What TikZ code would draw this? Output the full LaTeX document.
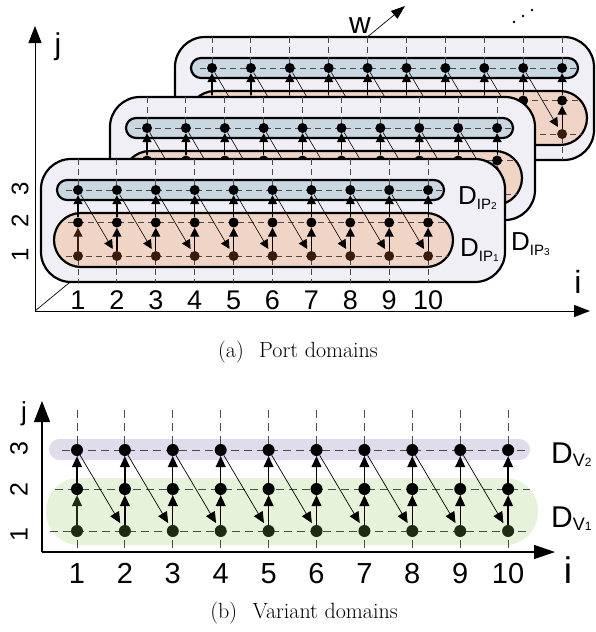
\documentclass[tikz,border=0pt]{standalone}
\usepackage{fontspec}
\newfontfamily\sansf{Liberation Sans}
\usetikzlibrary{arrows.meta}
\definecolor{cPlane}{RGB}{240,239,245}
\definecolor{cBlue}{RGB}{201,216,224}
\definecolor{cSalmon}{RGB}{240,213,199}
\definecolor{cLav}{RGB}{225,220,236}
\definecolor{cGreen}{RGB}{231,242,219}
\definecolor{cDotBrown}{RGB}{58,28,12}
\definecolor{cDotGreen}{RGB}{30,44,18}
\definecolor{cGrid}{RGB}{75,75,75}
\newcommand{\fsz}[1]{\fontsize{#1}{#1}\selectfont}
\tikzset{
  planebox/.style={draw=black, line width=2.2pt, fill=cPlane, rounded corners=30pt},
  pillblue/.style={draw=black, line width=2.2pt, fill=cBlue, rounded corners=10pt},
  pillsalmon/.style={draw=black, line width=2.2pt, fill=cSalmon, rounded corners=27pt},
  gridA/.style={draw=cGrid, line width=0.9pt, dash pattern=on 6pt off 4pt},
  gridB/.style={draw=cGrid, line width=1pt, dash pattern=on 8pt off 5pt},
  dotA/.style={circle, fill=black, inner sep=0pt, minimum size=10pt},
  dotAlow/.style={dotA, fill=cDotBrown},
  dotB/.style={circle, fill=black, inner sep=0pt, minimum size=12pt},
  dotBlow/.style={dotB, fill=cDotGreen},
  varrowA/.style={line width=1.2pt, -{Triangle[length=9pt,width=9pt]}},
  darrowA/.style={line width=0.6pt, -{Triangle[length=9pt,width=9pt]}, shorten >=3pt},
  varrowB/.style={line width=1.3pt, -{Triangle[length=11pt,width=10pt]}},
  darrowB/.style={line width=0.7pt, -{Triangle[length=11pt,width=10pt]}, shorten >=3pt},
  axisline/.style={line width=1pt},
  lab/.style={inner sep=0pt, font=\sansf},
  captext/.style={inner sep=0pt, font=\fsz{22}},
}
% plane: #1 prefix, #2 x of col 1, #3 y of row 3, #4 right edge (relative)
\newcommand{\drawplane}[4]{%
\begin{scope}[shift={(#2,#3)}]
  \draw[planebox] (-37,-31) rectangle (#4,92);
  \draw[pillblue] (-21,-10) rectangle (366,10);
  \draw[pillsalmon] (-24,23) rectangle (375,77);
  \foreach \k in {0,...,9} \draw[gridA] ({\k*38.9},-31) -- ({\k*38.9},92);
  \draw[gridA] (-12,0) -- (367,0);
  \draw[gridA] (-10,32.5) -- (370,32.5);
  \draw[gridA] (-12,66) -- (370,66);
  \foreach \k in {1,...,10} {
    \node[dotA] (#1-3-\k) at ({(\k-1)*38.9},0) {};
    \node[dotA] (#1-2-\k) at ({(\k-1)*38.9},32.5) {};
    \node[dotAlow] (#1-1-\k) at ({(\k-1)*38.9},66) {};
  }
  \draw[varrowA, cDotBrown] (#1-1-1) -- (#1-2-1);
  \foreach \k in {2,...,10} \draw[varrowA] (#1-1-\k) -- (#1-2-\k);
  \foreach \k in {1,...,10} \draw[varrowA] (#1-2-\k) -- (#1-3-\k);
  \foreach \k [count=\n from 2] in {1,...,9} \draw[darrowA] (#1-3-\k) -- (#1-1-\n);
\end{scope}}
\begin{document}
\begin{tikzpicture}[x=1pt,y=-1pt]
\useasboundingbox (0,0) rectangle (596,632);
%================ (a) =================
\coordinate (aO) at (35,311);
\coordinate (aJ) at (35,26);
\coordinate (aI) at (590,311);
\coordinate (aW) at (405,6);
\draw[axisline, -{Triangle[length=17pt,width=13pt]}] (aO) -- (aJ);
\draw[axisline, -{Triangle[length=16pt,width=12pt]}] (aO) -- (aI);
\draw[line width=0.7pt, -{Triangle[length=14pt,width=10pt]}] (aO) -- (aW);
\drawplane{pc}{212}{68}{382}
\drawplane{pb}{147}{128}{388}
\drawplane{pa}{78}{190}{427}
% ellipsis
\node[circle, fill=black, inner sep=0pt, minimum size=2.6pt] (e1) at (514,22) {};
\node[circle, fill=black, inner sep=0pt, minimum size=2.6pt] (e2) at (523,16) {};
\node[circle, fill=black, inner sep=0pt, minimum size=2.6pt] (e3) at (532,10) {};
% labels (a)
\node[lab, anchor=base, font=\sansf\fsz{30}] (ja) at (58,54) {j};
\node[lab, anchor=base, font=\sansf\fsz{30}] (wa) at (360,33) {w};
\node[lab, anchor=base, font=\sansf\fsz{32}] (ia) at (578,293) {i};
\foreach \k in {1,...,10}
  \node[lab, anchor=base, font=\sansf\fsz{27}] (ta\k) at ({78+(\k-1)*38.9},309) {\k};
\node[lab, rotate=90, font=\sansf\fsz{24}] (ra3) at (20,189) {3};
\node[lab, rotate=90, font=\sansf\fsz{24}] (ra2) at (20,221) {2};
\node[lab, rotate=90, font=\sansf\fsz{24}] (ra1) at (20,255) {1};
\node[lab, anchor=base west] (dip2) at (458,204) {\fsz{26}D\raisebox{-5pt}{\fsz{15}IP\fsz{10}2}};
\node[lab, anchor=base west] (dip1) at (460,256) {\fsz{26}D\raisebox{-5pt}{\fsz{15}IP\fsz{10}1}};
\node[lab, anchor=base west] (dip3) at (511,250) {\fsz{26}D\raisebox{-5pt}{\fsz{15}IP\fsz{10}3}};
\node[captext, anchor=base] (capa) at (298,357) {(a)\hspace{0.7em}Port domains};
%================ (b) =================
\fill[cLav, rounded corners=10.5pt] (49,439) rectangle (530,460);
\fill[cGreen, rounded corners=33pt] (46,478) rectangle (538,545);
\foreach \k in {1,...,10} \draw[gridB] ({77+(\k-1)*47.9},410) -- ({77+(\k-1)*47.9},551);
\draw[gridB] (62,450) -- (530,450);
\draw[gridB] (55,489) -- (530,489);
\draw[gridB] (50,531) -- (530,531);
\coordinate (bO) at (42,552);
\coordinate (bJ) at (42,401);
\coordinate (bI) at (555,552);
\draw[line width=1.2pt, -{Triangle[length=21pt,width=16pt]}] (bO) -- (bJ);
\draw[line width=1.2pt, -{Triangle[length=21pt,width=14pt]}] (bO) -- (bI);
\foreach \k in {1,...,10} {
  \node[dotB] (v-3-\k) at ({77+(\k-1)*47.9},450) {};
  \node[dotB] (v-2-\k) at ({77+(\k-1)*47.9},489) {};
  \node[dotBlow] (v-1-\k) at ({77+(\k-1)*47.9},531) {};
}
\draw[varrowB, cDotGreen] (v-1-1) -- (v-2-1);
\foreach \k in {2,...,10} \draw[varrowB] (v-1-\k) -- (v-2-\k);
\foreach \k in {1,...,10} \draw[varrowB] (v-2-\k) -- (v-3-\k);
\foreach \k [count=\n from 2] in {1,...,9} \draw[darrowB] (v-3-\k) -- (v-1-\n);
\node[lab, anchor=base, font=\sansf\fsz{26}] (jb) at (24,420) {j};
\node[lab, anchor=base, font=\sansf\fsz{37}] (ib) at (568,583) {i};
\foreach \k in {1,...,10}
  \node[lab, anchor=base, font=\sansf\fsz{29}] (tb\k) at ({77+(\k-1)*47.9},583) {\k};
\node[lab, rotate=90, font=\sansf\fsz{25}] (rb3) at (19,449) {3};
\node[lab, rotate=90, font=\sansf\fsz{25}] (rb2) at (19,490) {2};
\node[lab, rotate=90, font=\sansf\fsz{25}] (rb1) at (19,535) {1};
\node[lab, anchor=base west] (dv2) at (551,463) {\fsz{30}D\raisebox{-3pt}{\fsz{18}V\fsz{12}2}};
\node[lab, anchor=base west] (dv1) at (551,527) {\fsz{30}D\raisebox{-3pt}{\fsz{18}V\fsz{12}1}};
\node[captext, anchor=base] (capb) at (304,618) {(b)\hspace{0.7em}Variant domains};
\end{tikzpicture}
\end{document}
